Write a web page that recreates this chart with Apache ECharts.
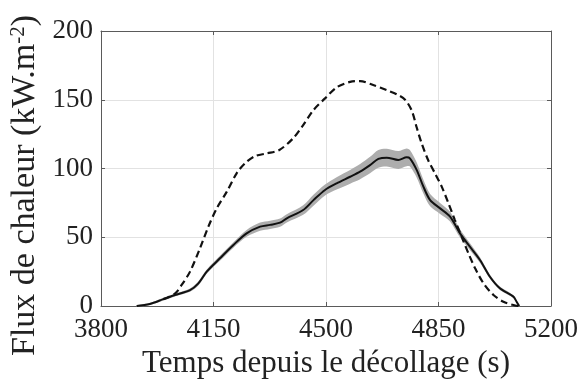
<!DOCTYPE html>
<html>
<head>
<meta charset="utf-8">
<script src="https://cdn.jsdelivr.net/npm/echarts@6/dist/echarts.min.js"></script>
<style>
html,body{margin:0;padding:0;background:#fff;}
#main{width:582px;height:380px;}
</style>
</head>
<body>
<div id="main"></div>
<script>
// mesure : temps (s), flux moyen et demi-largeur de la bande grise
var tempsMesure = [3911,3952,3994,4030,4077,4103,4129,4170,4212,4253,4295,4326,4357,4378,4429,4461,4497,4533,4575,4606,4637,4663,4689,4725,4751,4761,4782,4803,4824,4855,4886,4917,4948,4979,5010,5041,5083,5093,5101];
var fluxMesure  = [0,1.5,5,8,11.6,16.5,25,34.7,44.4,52.8,57.7,59,60.6,63.8,69.8,77,84.4,89.2,94,97.7,102.5,107,107.9,106.2,108.1,107.4,99,86.8,77,71,65,52.8,43.1,33.5,21.3,12.9,6.8,3.1,0];
var ecartMesure = [0.5,0.8,1,1,1.2,1.5,1.5,1.8,2,2.5,3,3,3,3,3.5,4,4,4.5,5,5.5,6,6.5,6.5,6.5,6.5,6,5.5,5,4.5,4,3.5,3,2.5,2,1.5,1.2,1,0.8,0.5];

// modele (tirets)
var tempsModele = [3994,4030,4051,4077,4108,4134,4160,4191,4222,4248,4279,4316,4355,4398,4429,4461,4497,4533,4575,4606,4647,4689,4720,4746,4767,4782,4798,4818,4839,4860,4881,4901,4922,4943,4964,4990,5021,5052,5083,5098];
var fluxModele  = [5,9,15.3,25,42,57.7,71,83,96.5,103.8,109,111,113.5,122,131.6,142.5,151,159,163,163.6,160.7,157,154,150,142,130,118,106,96.5,86.8,74.7,62.5,50.4,38.3,27.4,16.5,8,3.1,0.7,0];

var xTicks = [3800,4150,4500,4850,5200];
var yTicks = [0,50,100,150,200];

var bande = [], ligneMesure = [], ligneModele = [];
for (var i = 0; i < tempsMesure.length; i++) {
    bande.push([tempsMesure[i], fluxMesure[i] - ecartMesure[i], fluxMesure[i] + ecartMesure[i]]);
    ligneMesure.push([tempsMesure[i], fluxMesure[i]]);
}
for (var j = 0; j < tempsModele.length; j++) {
    ligneModele.push([tempsModele[j], fluxModele[j]]);
}

var police = 'Liberation Serif, Times New Roman, serif';
var cadre = '#5a5a5a';
var texte = '#222';

function sansVirgule(v) { return String(v); }

var myChart = echarts.init(document.getElementById('main'));
var option = {
    animation: false,
    backgroundColor: '#fff',
    grid: { left: 101, right: 31, top: 31, bottom: 74, show: false, containLabel: false, outerBoundsMode: 'none' },
    xAxis: [{
        type: 'value',
        min: xTicks[0], max: xTicks[xTicks.length - 1], interval: xTicks[1] - xTicks[0],
        name: 'Temps depuis le décollage (s)',
        nameLocation: 'middle', nameGap: 42,
        nameTextStyle: { fontFamily: police, fontSize: 31, color: texte },
        axisLine: { show: true, onZero: false, lineStyle: { color: cadre, width: 1 } },
        axisTick: { show: true, inside: true, length: 4, lineStyle: { color: cadre } },
        axisLabel: { fontFamily: police, fontSize: 27, color: texte, margin: 10, formatter: sansVirgule },
        splitLine: { show: true, lineStyle: { color: '#e2e2e2', width: 1 } }
    }, {
        type: 'value', position: 'top',
        min: xTicks[0], max: xTicks[xTicks.length - 1], interval: xTicks[1] - xTicks[0],
        axisLine: { show: true, onZero: false, lineStyle: { color: cadre, width: 1 } },
        axisTick: { show: true, inside: true, length: 4, lineStyle: { color: cadre } },
        axisLabel: { show: false }, splitLine: { show: false }
    }],
    yAxis: [{
        type: 'value',
        min: yTicks[0], max: yTicks[yTicks.length - 1], interval: yTicks[1] - yTicks[0],
        name: 'Flux de chaleur (kW.m{sup|-2})',
        nameLocation: 'middle', nameGap: 53, nameRotate: 90,
        nameTextStyle: {
            fontFamily: police, fontSize: 34, color: texte, lineHeight: 34,
            padding: [0, 34, 0, 0],
            rich: { sup: { fontFamily: police, fontSize: 21, color: texte, verticalAlign: 'top', lineHeight: 21 } }
        },
        axisLine: { show: true, onZero: false, lineStyle: { color: cadre, width: 1 } },
        axisTick: { show: true, inside: true, length: 4, lineStyle: { color: cadre } },
        axisLabel: { fontFamily: police, fontSize: 27, color: texte, margin: 8, formatter: sansVirgule },
        splitLine: { show: true, lineStyle: { color: '#e2e2e2', width: 1 } }
    }, {
        type: 'value', position: 'right',
        min: yTicks[0], max: yTicks[yTicks.length - 1], interval: yTicks[1] - yTicks[0],
        axisLine: { show: true, onZero: false, lineStyle: { color: cadre, width: 1 } },
        axisTick: { show: true, inside: true, length: 4, lineStyle: { color: cadre } },
        axisLabel: { show: false }, splitLine: { show: false }
    }],
    series: [{
        name: 'bande', type: 'custom', data: bande,
        encode: { x: 0, y: [1, 2] },
        silent: true,
        renderItem: function (params, api) {
            if (params.dataIndex !== 0) return;
            var pts = [];
            for (var k = 0; k < bande.length; k++) pts.push(api.coord([bande[k][0], bande[k][2]]));
            for (var m = bande.length - 1; m >= 0; m--) pts.push(api.coord([bande[m][0], bande[m][1]]));
            return {
                type: 'polygon',
                shape: { points: pts, smooth: 0.3 },
                style: { fill: '#adadad' }
            };
        }
    }, {
        name: 'mesure', type: 'line', data: ligneMesure,
        symbol: 'none', smooth: 0.3,
        lineStyle: { color: '#111', width: 2 }
    }, {
        name: 'modele', type: 'line', data: ligneModele,
        symbol: 'none', smooth: 0.3,
        lineStyle: { color: '#111', width: 2.2, type: [7, 4] }
    }]
};
myChart.setOption(option);
</script>
</body>
</html>
